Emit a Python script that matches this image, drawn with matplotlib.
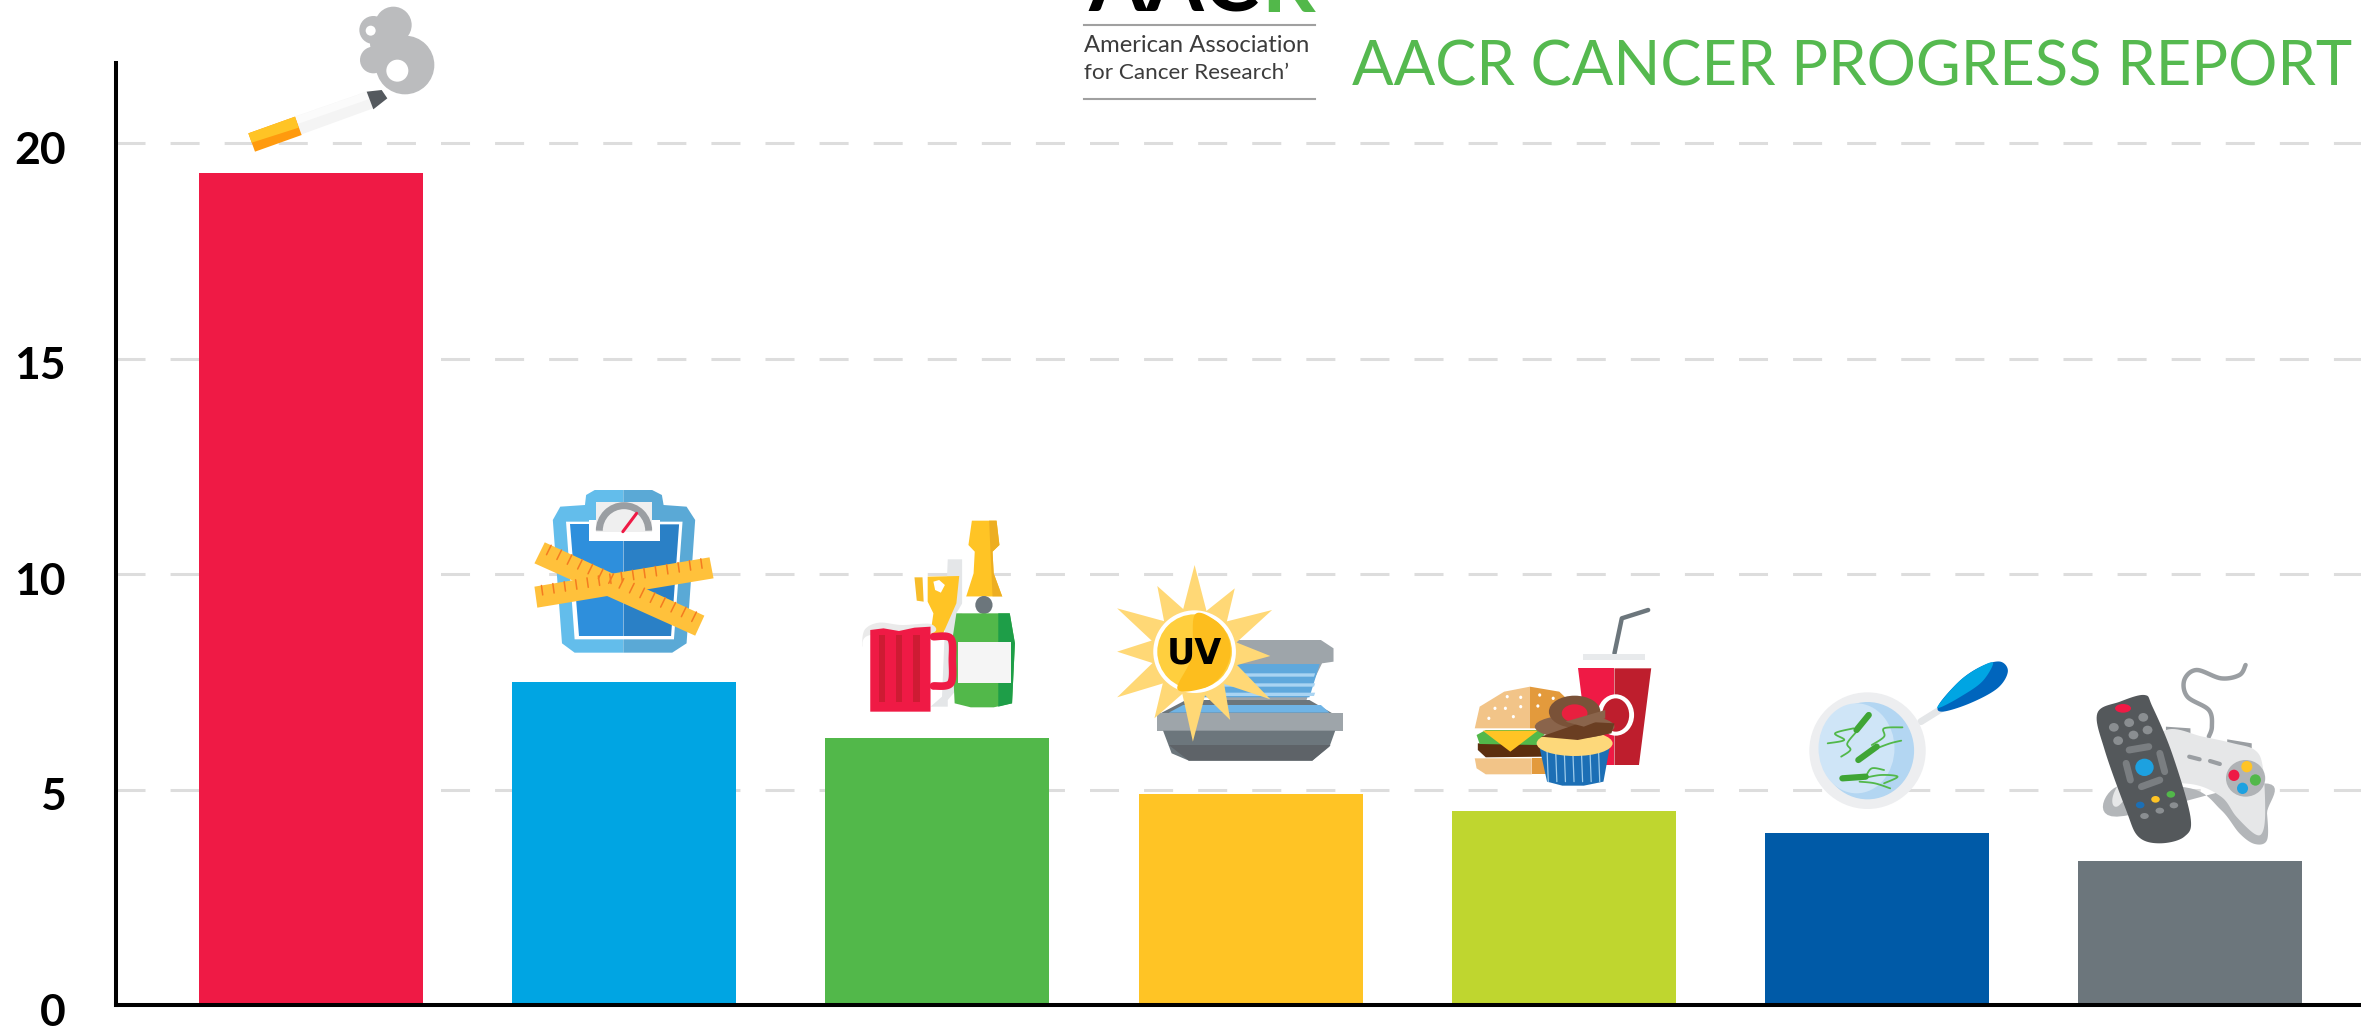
import numpy as np
import matplotlib
matplotlib.use("Agg")
import matplotlib.pyplot as plt
from matplotlib.patches import Polygon, Ellipse, Arc
from matplotlib.transforms import Affine2D, ScaledTranslation

categories = ["Tobacco", "Overweight", "Alcohol", "UV", "Diet", "Infection", "Inactivity"]
values = [19.3, 7.5, 6.2, 4.9, 4.5, 4.0, 3.35]
bar_colors = ["#EF1A45", "#00A5E3", "#52B84A", "#FFC425", "#BFD62F", "#005AA7", "#6C767C"]
y_ticks = [0, 5, 10, 15, 20]
title = "AACR CANCER PROGRESS REPORT"
logo_lines = ["American Association", "for Cancer Research\u2019"]

W, H = 2361, 1028
DPI = 100
plt.rcParams["font.family"] = ["Lato", "DejaVu Sans"]

fig = plt.figure(figsize=(W / DPI, H / DPI), dpi=DPI, facecolor="white")
ax = fig.add_axes([116 / W, 1 - 1005 / H, 1 - 116 / W, (1005 - 63) / H])

ax.bar(range(len(values)), values, width=0.715, color=bar_colors, linewidth=0)
ax.set_xlim(-0.622, 6.545)
ax.set_ylim(0, 21.86)
ax.set_xticks([])
ax.set_yticks(y_ticks)
ax.set_axisbelow(True)
ax.grid(axis="y", color="#DDDDDD", linewidth=2.2, linestyle=(0, (9.5, 8.2)))
ax.spines["top"].set_visible(False)
ax.spines["right"].set_visible(False)
ax.spines["left"].set_linewidth(2.9)
ax.spines["bottom"].set_linewidth(2.9)
ax.tick_params(axis="y", length=0, pad=36, labelsize=32)
for label in ax.get_yticklabels():
    label.set_fontweight("bold")
    label.set_transform(label.get_transform() + ScaledTranslation(0, -4 / DPI, fig.dpi_scale_trans))

# overlay in pixels for the header and the little pictures
ov = fig.add_axes([0, 0, 1, 1], facecolor="none")
ov.set_xlim(0, W)
ov.set_ylim(H, 0)
ov.axis("off")


def crop(ox, oy, kx, ky):
    return Affine2D().scale(1 / kx, 1 / ky).translate(ox, oy) + ov.transData


def smooth(pts, closed=False):
    # catmull-rom through the points, so the outlines are not jagged
    p = np.array(pts, dtype=float)
    if closed:
        p = np.vstack([p[-1], p, p[0], p[1]])
    else:
        p = np.vstack([p[0], p, p[-1]])
    out = []
    for i in range(1, len(p) - 2):
        for u in np.linspace(0, 1, 12, endpoint=False):
            out.append(0.5 * (2 * p[i] + (p[i + 1] - p[i - 1]) * u
                              + (2 * p[i - 1] - 5 * p[i] + 4 * p[i + 1] - p[i + 2]) * u ** 2
                              + (3 * p[i] - p[i - 1] - 3 * p[i + 1] + p[i + 2]) * u ** 3))
    if not closed:
        out.append(p[-1])
    return np.array(out)


def poly(tr, pts, color, z=3):
    ov.add_patch(Polygon(pts, closed=True, facecolor=color, edgecolor="none", transform=tr, zorder=z))


def blob(tr, pts, color, z=3):
    poly(tr, smooth(pts, closed=True), color, z)


def ell(tr, cx, cy, rx, ry, color, z=3):
    ov.add_patch(Ellipse((cx, cy), 2 * rx, 2 * ry, facecolor=color, edgecolor="none", transform=tr, zorder=z))


def line(tr, pts, color, lw, z=3):
    pts = np.array(pts)
    ov.plot(pts[:, 0], pts[:, 1], color=color, lw=lw, transform=tr, zorder=z, solid_capstyle="round", solid_joinstyle="round")


def curve(tr, pts, color, lw, z=3):
    line(tr, smooth(pts), color, lw, z)


# header
ov.text(1259, 12, "AAC", color="black", fontsize=60, fontweight="bold", ha="right", va="baseline")
ov.text(1261, 12, "R", color="#52B84A", fontsize=60, fontweight="bold", ha="left", va="baseline")
ov.plot([1084, 1315], [25, 25], color="#A0A0A0", lw=1.5)
ov.plot([1084, 1315], [99, 99], color="#A0A0A0", lw=1.5)
ov.text(1084, 45, logo_lines[0], color="#3C3C3C", fontsize=17.2, ha="left", va="center")
ov.text(1084, 73, logo_lines[1], color="#3C3C3C", fontsize=16.2, ha="left", va="center")
ov.text(1352, 86, title, color="#55B94F", fontsize=44.3, ha="left", va="baseline")

# cigarette and smoke
t = crop(0, 0, 3, 3)
poly(t, [(885, 350), (1100, 275), (1120, 325), (905, 403)], "#F4F4F4")
poly(t, [(885, 350), (1100, 275), (1108, 297), (893, 372)], "#FBFBFB")
poly(t, [(745, 400), (885, 350), (905, 405), (765, 455)], "#FF9A0E")
poly(t, [(745, 400), (885, 350), (896, 383), (755, 428)], "#FFC425")
poly(t, [(1100, 275), (1145, 270), (1162, 295), (1120, 328)], "#54595E")
for cx, cy, r in [(1215, 195, 88), (1180, 75, 55), (1120, 90, 42), (1120, 180, 40), (1165, 130, 55)]:
    ell(t, cx, cy, r, r, "#BBBCBE")
ell(t, 1192, 212, 33, 33, "white", 4)
ell(t, 1112, 92, 15, 15, "white", 4)

# scale with tape
t = crop(500, 470, 1.742, 3)
poly(t, [(215, 60), (165, 60), (150, 75), (148, 105), (105, 110), (92, 150), (108, 520), (130, 548), (215, 548)], "#63BDEB")
poly(t, [(215, 60), (265, 60), (282, 75), (285, 105), (325, 110), (340, 150), (325, 520), (300, 548), (215, 548)], "#5AA9D6")
poly(t, [(115, 155), (318, 155), (303, 508), (130, 508)], "white")
poly(t, [(122, 163), (215, 163), (215, 498), (137, 498)], "#2E8FDC")
poly(t, [(215, 163), (312, 163), (298, 498), (215, 498)], "#2A80C6")
poly(t, [(155, 150), (278, 150), (278, 212), (155, 212)], "white", 4)
poly(t, [(168, 97), (265, 97), (265, 185), (168, 185)], "#EFEFEF", 4)
ov.add_patch(Arc((216, 182), 86, 150, theta1=180, theta2=360, color="#9A9EA2", lw=5, transform=t, zorder=5))
line(t, [(214, 185), (238, 130)], "#EF1A45", 2.2, 6)
for p0, p1, p2, p3 in [((60, 350), (365, 262), (372, 325), (65, 413)), ((78, 217), (356, 437), (340, 497), (60, 280))]:
    poly(t, [p0, p1, p2, p3], "#FFC13B", 6)
    for f in np.arange(0.04, 1, 0.065):
        a = np.array(p0) + f * (np.array(p1) - np.array(p0))
        b = a + 0.45 * (np.array(p3) - np.array(p0))
        line(t, [a, b], "#F47B20", 1.1, 7)

# drinks
poly(t, [(780, 268), (805, 268), (805, 640), (780, 690), (780, 710), (750, 710), (770, 680)], "#E4E6E8")
poly(t, [(722, 322), (736, 322), (738, 395), (726, 392)], "#F7BC2A")
poly(t, [(745, 320), (800, 318), (795, 400), (772, 490), (750, 490), (755, 430), (745, 395)], "#FFC425")
poly(t, [(755, 335), (765, 330), (775, 345), (768, 368), (758, 360)], "white", 4)
poly(t, [(822, 152), (865, 152), (870, 225), (858, 245), (860, 310), (875, 380), (812, 380), (825, 310), (827, 245), (816, 225)], "#FFC425")
poly(t, [(852, 152), (865, 152), (870, 225), (858, 245), (860, 310), (875, 380), (858, 380)], "#EDAE22", 4)
poly(t, [(812, 380), (875, 380), (888, 430), (795, 430)], "white", 4)
ell(t, 843, 405, 15, 27, "#6C767C", 5)
poly(t, [(795, 430), (888, 430), (897, 520), (892, 700), (860, 712), (820, 712), (792, 700), (787, 520)], "#52B84A", 5)
poly(t, [(868, 430), (888, 430), (897, 520), (892, 700), (868, 710)], "#1E9E48", 6)
poly(t, [(797, 515), (890, 515), (890, 640), (797, 640)], "#F5F5F5", 7)
curve(t, [(755, 500), (785, 505), (788, 570), (785, 640), (755, 648)], "#EF1A45", 5.5, 7)
blob(t, [(632, 530), (635, 480), (660, 458), (700, 465), (750, 462), (750, 490), (645, 495)], "#EAEAEA", 7)
poly(t, [(645, 480), (668, 475), (695, 483), (722, 473), (750, 470), (750, 725), (645, 725)], "#EF1A45", 8)
for x0 in [660, 690, 720]:
    poly(t, [(x0, 495), (x0 + 11, 495), (x0 + 11, 695), (x0, 695)], "#CE1B33", 9)

# tanning bed with sun
poly(t, [(1285, 510), (1430, 510), (1452, 535), (1452, 575), (1432, 580), (1415, 640), (1405, 690), (1260, 690), (1260, 580)], "#9EA5AA")
poly(t, [(1260, 582), (1428, 582), (1410, 682), (1210, 682)], "#5FA8DC")
for y0 in [610, 640, 668]:
    poly(t, [(1260, y0), (1420, y0), (1418, y0 + 10), (1240, y0 + 10)], "#A9D4F2")
poly(t, [(1195, 690), (1410, 690), (1455, 735), (1145, 735)], "#6C767C")
poly(t, [(1190, 705), (1430, 705), (1445, 728), (1165, 728)], "#6FB4E6")
poly(t, [(1145, 730), (1468, 730), (1468, 782), (1145, 782)], "#9EA5AA")
poly(t, [(1155, 782), (1455, 782), (1445, 830), (1415, 872), (1200, 872), (1170, 850)], "#6C767C")
poly(t, [(1165, 825), (1447, 825), (1415, 872), (1200, 872)], "#5E6368")
cx, cy = 1210, 545
tips = [(1210, 285), (1280, 355), (1345, 420), (1342, 558), (1342, 688), (1272, 750), (1207, 815),
        (1140, 745), (1075, 682), (1075, 545), (1075, 415), (1145, 348)]
for tx, ty in tips:
    a = np.arctan2((ty - cy) / 1.72, tx - cx)
    b0 = (cx + 72 * np.cos(a - 0.3), cy + 124 * np.sin(a - 0.3))
    b1 = (cx + 72 * np.cos(a + 0.3), cy + 124 * np.sin(a + 0.3))
    poly(t, [(tx, ty), b0, b1], "#FFD876", 5)
ell(t, cx, cy, 72, 124, "white", 6)
ell(t, cx, cy, 65, 112, "#FFCF3E", 7)
blob(t, [(1210, 435), (1245, 450), (1268, 500), (1272, 560), (1255, 620), (1225, 655), (1180, 657), (1205, 560)], "#FDBE1E", 8)
ov.text(500 + 1210 / 1.742, 470 + 550 / 3, "UV", color="black", fontsize=25, fontweight="bold", ha="center", va="center",
        family=["Liberation Sans Narrow", "DejaVu Sans"], zorder=9)

# burger, cup, cupcake
t = crop(1400, 580, 1.632, 3)
line(t, [(350, 220), (362, 115), (405, 90)], "#6C767C", 3.2)
poly(t, [(298, 222), (400, 222), (400, 240), (298, 240)], "#E8EAEC")
poly(t, [(290, 265), (350, 265), (350, 555), (310, 555)], "#EF1A45")
poly(t, [(350, 265), (410, 265), (390, 555), (350, 555)], "#BE1E2D")
ell(t, 352, 405, 30, 62, "white", 4)
ell(t, 352, 405, 22, 50, "#BE1E2D", 5)
poly(t, [(122, 445), (130, 380), (170, 335), (212, 320), (212, 445)], "#F2C488", 6)
poly(t, [(212, 320), (260, 335), (280, 370), (285, 445), (212, 445)], "#E39A3C", 6)
for sx, sy in [(175, 350), (197, 352), (228, 345), (250, 355), (155, 385), (172, 385), (197, 380), (225, 378), (145, 415), (185, 410)]:
    ell(t, sx, sy, 2.5, 5, "white", 7)
poly(t, [(127, 490), (235, 490), (235, 530), (140, 532), (127, 510)], "#5C2E0E", 6)
poly(t, [(125, 465), (140, 450), (240, 450), (225, 495), (130, 492)], "#52B84A", 7)
poly(t, [(135, 452), (225, 452), (180, 515)], "#FFC425", 8)
poly(t, [(122, 535), (215, 535), (215, 583), (140, 583), (125, 565)], "#F2C488", 6)
poly(t, [(215, 535), (240, 535), (240, 583), (215, 583)], "#E39A3C", 6)
poly(t, [(228, 505), (342, 505), (332, 605), (300, 617), (265, 617), (240, 605)], "#1C6FB5", 9)
for x0 in np.arange(240, 335, 14):
    line(t, [(x0, 510), (x0 + 2, 605)], "#9CCBEA", 0.9, 10)
ell(t, 285, 490, 62, 38, "#FDD87A", 10)
ell(t, 285, 440, 65, 35, "#8A644B", 11)
ell(t, 285, 395, 42, 48, "#7A5238", 11)
ell(t, 285, 400, 21, 27, "#E8203F", 12)
poly(t, [(230, 470), (300, 425), (350, 430), (345, 460), (290, 480)], "#6A3E22", 13)
poly(t, [(270, 425), (335, 390), (335, 415), (300, 440)], "#8A644B", 13)

# magnifying glass and bacteria
line(t, [(850, 425), (885, 385)], "#E4E6E8", 5)
blob(t, [(880, 372), (915, 300), (950, 258), (980, 245), (992, 275), (975, 325), (930, 370), (885, 395)], "#0065BD")
blob(t, [(880, 372), (915, 300), (950, 258), (968, 250), (950, 305), (915, 350), (882, 382)], "#00A5E3", 4)
ell(t, 763, 512, 95, 175, "#EDEEF0", 3)
ell(t, 763, 512, 76, 146, "#B3D6F2", 4)
ell(t, 745, 505, 62, 135, "#CFE5F7", 5)
for pts in [[(745, 450), (765, 405)], [(748, 540), (778, 500)], [(722, 595), (760, 590)]]:
    line(t, pts, "#3FA535", 4.5, 7)
wiggles = [[(740, 445), (710, 460), (725, 480), (698, 490)],
           [(745, 455), (730, 490), (735, 510), (720, 530)],
           [(770, 495), (790, 470), (790, 445), (820, 442)],
           [(778, 505), (800, 490), (818, 482)],
           [(760, 590), (770, 565), (790, 570)],
           [(755, 595), (785, 585), (812, 590), (790, 610)],
           [(750, 605), (775, 610), (800, 625)]]
for pts in wiggles:
    curve(t, pts, "#52B84A", 1.3, 6)

# game controller and remote
curve(t, [(1380, 255), (1370, 285), (1340, 295), (1300, 270), (1280, 300), (1285, 350), (1320, 390), (1325, 440), (1320, 470)], "#9A9EA2", 3.2)
poly(t, [(1250, 440), (1290, 445), (1290, 465), (1250, 460)], "#9A9EA2")
poly(t, [(1350, 478), (1390, 490), (1390, 505), (1350, 495)], "#9A9EA2")
blob(t, [(1170, 620), (1290, 625), (1340, 690), (1370, 760), (1395, 792), (1415, 780), (1415, 700), (1408, 610), (1170, 710)], "#B3B6B9")
blob(t, [(1250, 450), (1310, 470), (1360, 490), (1395, 510), (1408, 560), (1412, 690), (1408, 755), (1395, 762), (1365, 710), (1340, 650), (1290, 612), (1210, 620), (1170, 680), (1165, 640), (1200, 540)], "#E6E7E8", 4)
ell(t, 1380, 595, 32, 55, "#B0B3B6", 5)
ell(t, 1382, 560, 9, 17, "#FFC425", 6)
ell(t, 1361, 586, 9, 17, "#EF1A45", 6)
ell(t, 1396, 600, 9, 17, "#52B84A", 6)
ell(t, 1375, 625, 9, 17, "#1DA1E0", 6)
line(t, [(1288, 530), (1305, 538)], "#9A9EA2", 3, 6)
line(t, [(1322, 543), (1338, 552)], "#9A9EA2", 3, 6)
blob(t, [(1138, 400), (1175, 365), (1215, 345), (1228, 380), (1260, 520), (1290, 710), (1280, 770), (1240, 790), (1205, 770), (1185, 690), (1150, 510)], "#54585B", 7)
ell(t, 1180, 385, 13, 13, "#EF1A45", 8)
for bx, by in [(1165, 442), (1190, 428), (1213, 412), (1172, 482), (1197, 465), (1220, 450)]:
    ell(t, bx, by, 8, 13, "#8A8E91", 8)
line(t, [(1190, 510), (1222, 500)], "#7A7E81", 5, 8)
line(t, [(1210, 620), (1240, 600)], "#7A7E81", 5, 8)
line(t, [(1185, 550), (1192, 600)], "#7A7E81", 5, 8)
line(t, [(1240, 520), (1248, 575)], "#7A7E81", 5, 8)
ell(t, 1215, 562, 15, 26, "#1DA1E0", 9)
ell(t, 1208, 675, 7, 10, "#1C6FB5", 8)
ell(t, 1233, 658, 7, 10, "#FFC425", 8)
ell(t, 1258, 643, 7, 10, "#52B84A", 8)
for bx, by in [(1215, 708), (1240, 692), (1263, 676)]:
    ell(t, bx, by, 7, 9, "#8A8E91", 8)

fig.savefig("out.png", dpi=DPI, facecolor="white")
